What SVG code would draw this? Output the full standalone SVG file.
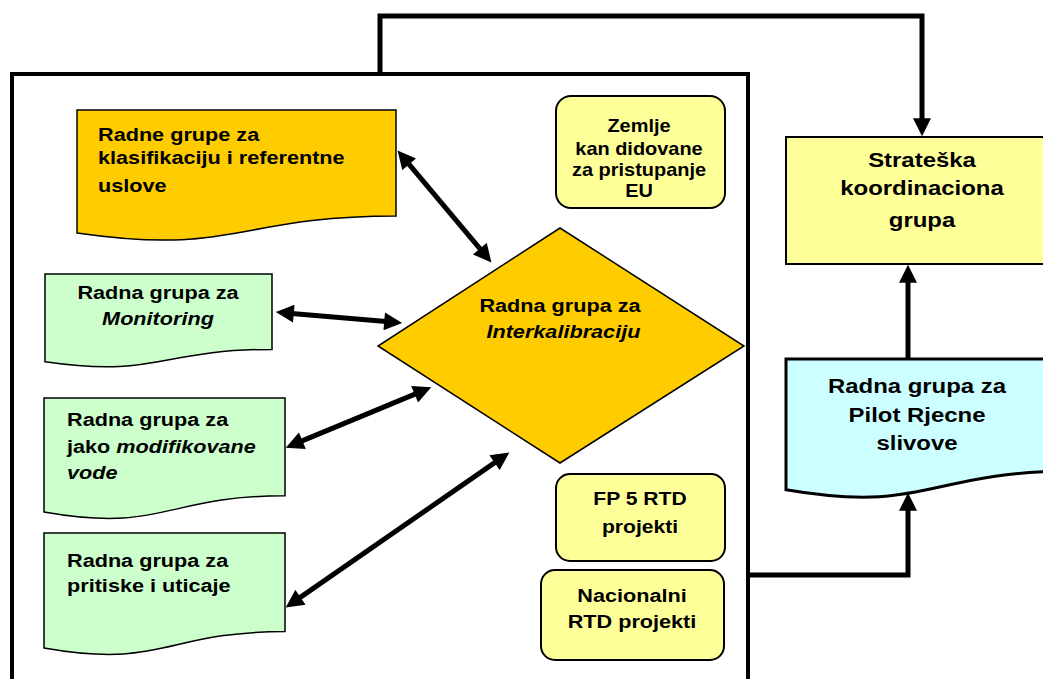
<svg xmlns="http://www.w3.org/2000/svg" width="1043" height="679" viewBox="0 0 1043 679">
<style>
  text { font-family: "Liberation Sans", Arial, sans-serif; font-weight: bold; fill: #000; }
  .c { text-anchor: middle; }
  .i { font-style: italic; }
  .doc { stroke: #000; stroke-width: 1.5; }
  .org { fill: #FFCC00; }
  .grn { fill: #CCFFCC; }
  .yel { fill: #FFFF99; stroke: #000; stroke-width: 2; }
  .conn { fill: none; stroke: #000; stroke-width: 5; }
  .dbl { marker-start: url(#ah); marker-end: url(#ah); }
  .one { marker-end: url(#ah); }
</style>
<defs>
  <marker id="ah" viewBox="0 0 10 10" refX="6" refY="5" markerWidth="4" markerHeight="3.6" orient="auto-start-reverse">
    <path d="M0,0 L10,5 L0,10 Z" fill="#000"/>
  </marker>
</defs>
<rect width="1043" height="679" fill="#fff"/>

<g id="frame">
  <rect x="12" y="74" width="736" height="700" fill="none" stroke="#000" stroke-width="4"/>
</g>

<g id="klasifikacija">
  <path class="doc org" d="M77,110 H396 V216 C236.5,216 236.5,256 77,233 Z"/>
  <text transform="translate(98,141) scale(1.14,1)" font-size="19"><tspan x="0">Radne grupe za</tspan><tspan x="0" dy="23">klasifikaciju i referentne</tspan><tspan x="0" dy="28">uslove</tspan></text>
</g>

<g id="monitoring">
  <path class="doc grn" d="M45,274 H272 V349.4 C158.5,349.4 158.5,378.1 45,361.8 Z"/>
  <text class="c" transform="translate(158,299) scale(1.14,1)" font-size="19"><tspan x="0">Radna grupa za</tspan><tspan x="0" dy="26" class="i">Monitoring</tspan></text>
</g>

<g id="modifikovane">
  <path class="doc grn" d="M44,398 H285 V495.8 C164.5,495.8 164.5,533.1 44,511.9 Z"/>
  <text transform="translate(67,426) scale(1.14,1)" font-size="19"><tspan x="0">Radna grupa za</tspan><tspan x="0" dy="27">jako <tspan class="i">modifikovane</tspan></tspan><tspan x="0" dy="26" class="i">vode</tspan></text>
</g>

<g id="pritiske">
  <path class="doc grn" d="M44,533 H285 V631.6 C164.5,631.6 164.5,669.2 44,647.9 Z"/>
  <text transform="translate(67,567) scale(1.14,1)" font-size="19"><tspan x="0">Radna grupa za</tspan><tspan x="0" dy="25">pritiske i uticaje</tspan></text>
</g>

<g id="interkalibracija">
  <polygon points="560,228 744,346 560,463 378,346" fill="#FFCC00" stroke="#000" stroke-width="1.5"/>
  <text class="c" transform="translate(560,312) scale(1.14,1)" font-size="19"><tspan x="0">Radna grupa za</tspan><tspan x="3" dy="26" class="i">Interkalibraciju</tspan></text>
</g>

<g id="zemlje">
  <rect class="yel" x="556" y="96" width="169" height="112" rx="15"/>
  <text class="c" transform="translate(639,132) scale(1.14,1)" font-size="17.5"><tspan x="0">Zemlje</tspan><tspan x="0" dy="23">kan didovane</tspan><tspan x="0" dy="21">za pristupanje</tspan><tspan x="0" dy="21">EU</tspan></text>
</g>

<g id="fp5">
  <rect class="yel" x="556" y="474" width="169" height="87" rx="14"/>
  <text class="c" transform="translate(640,505) scale(1.14,1)" font-size="18.5"><tspan x="0">FP 5 RTD</tspan><tspan x="0" dy="28">projekti</tspan></text>
</g>

<g id="nacionalni">
  <rect class="yel" x="541" y="570" width="183" height="90" rx="14"/>
  <text class="c" transform="translate(632,602) scale(1.14,1)" font-size="19"><tspan x="0">Nacionalni</tspan><tspan x="0" dy="26">RTD projekti</tspan></text>
</g>

<g id="strateska">
  <rect x="786" y="137" width="280" height="127" fill="#FFFF99" stroke="#000" stroke-width="2"/>
  <text class="c" transform="translate(922,167) scale(1.14,1)" font-size="21"><tspan x="0">Strateška</tspan><tspan x="0" dy="28">koordinaciona</tspan><tspan x="0" dy="32">grupa</tspan></text>
</g>

<g id="pilot">
  <path d="M786,359 H1070 V471.3 C928,471.3 928,514 786,489.8 Z" fill="#CCFFFF" stroke="#000" stroke-width="3"/>
  <text class="c" transform="translate(917,393) scale(1.14,1)" font-size="21"><tspan x="0">Radna grupa za</tspan><tspan x="0" dy="29">Pilot Rjecne</tspan><tspan x="0" dy="28">slivove</tspan></text>
</g>

<g id="connectors">
  <line class="conn dbl" x1="402.2" y1="156.1" x2="486.8" y2="256.9"/>
  <line class="conn dbl" x1="283" y1="312.7" x2="395" y2="322.3"/>
  <line class="conn dbl" x1="292.4" y1="444.9" x2="424.6" y2="390.1"/>
  <line class="conn dbl" x1="291.6" y1="603.4" x2="503.4" y2="456.6"/>
  <path class="conn one" d="M380,74 V16 H922 V129"/>
  <path class="conn one" d="M908,359 V272"/>
  <path class="conn one" d="M748,575 H908 V500"/>
</g>
</svg>
